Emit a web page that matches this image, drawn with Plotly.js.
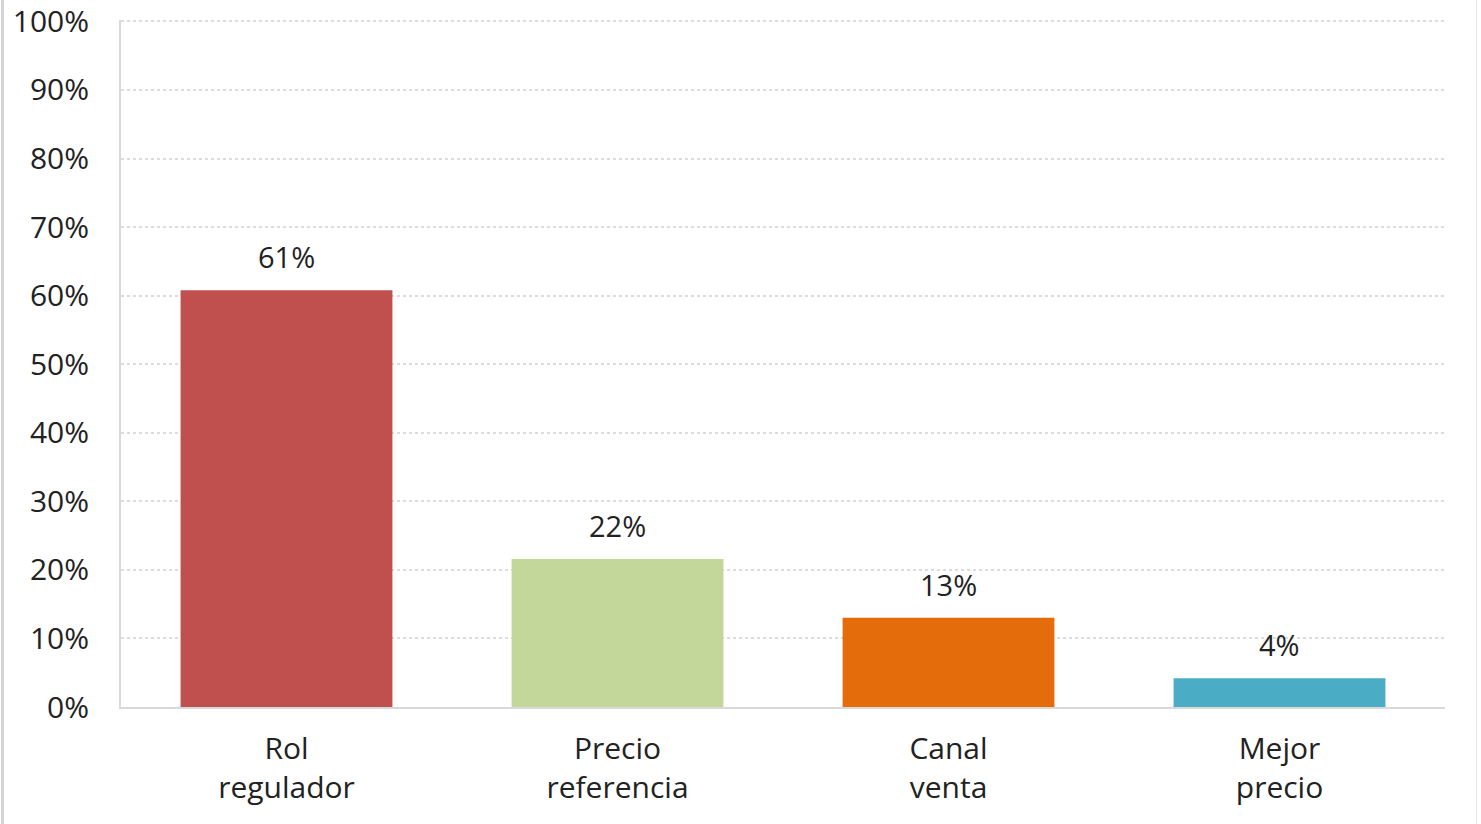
<!DOCTYPE html>
<html>
<head>
<meta charset="utf-8">
<script src="https://cdn.plot.ly/plotly-3.0.1.min.js"></script>
<style>
html,body{margin:0;padding:0;background:#fff;}
#chart{width:1481px;height:824px;position:absolute;left:0;top:0;}
#lb{position:absolute;left:1px;top:0;width:3px;height:824px;background:#d4d4d4;pointer-events:none;}
#rb{position:absolute;left:1476px;top:0;width:1px;height:824px;background:#e6e6e6;pointer-events:none;}
</style>
</head>
<body>
<div id="chart"></div>
<div id="lb"></div>
<div id="rb"></div>
<script>
const categories = ["Rol<br>regulador", "Precio<br>referencia", "Canal<br>venta", "Mejor<br>precio"];
const values = [0.608, 0.216, 0.13, 0.042];
const labels = ["61%", "22%", "13%", "4%"];
const colors = ["#C0504D", "#C4D79B", "#E46C0A", "#4BACC6"];
const yTickVals = [0, 0.1, 0.2, 0.3, 0.4, 0.5, 0.6, 0.7, 0.8, 0.9, 1.0];
const yTickText = ["0%", "10%", "20%", "30%", "40%", "50%", "60%", "70%", "80%", "90%", "100%"];

const FONT = "Open Sans, sans-serif";

const trace = {
  type: "bar",
  x: categories,
  y: values,
  marker: {color: colors, line: {width: 0}},
  width: 0.64,
  hoverinfo: "none"
};

const annotations = categories.map((c, i) => ({
  x: c, y: values[i], xref: "x", yref: "y",
  text: labels[i], showarrow: false,
  yanchor: "bottom", yshift: 12,
  font: {family: FONT, size: 29, color: "#222"}
}));

const layout = {
  width: 1481, height: 824,
  margin: {l: 121, r: 36, t: 20, b: 117},
  paper_bgcolor: "#fff", plot_bgcolor: "#fff",
  showlegend: false,
  bargap: 0.36,
  xaxis: {
    showline: true, linecolor: "#d9d9d9", linewidth: 2,
    showgrid: false, zeroline: false,
    ticks: "outside", ticklen: 14, tickcolor: "rgba(0,0,0,0)",
    tickfont: {family: FONT, size: 30, color: "#222"},
    fixedrange: true
  },
  yaxis: {
    range: [0, 1.002],
    tickvals: yTickVals, ticktext: yTickText,
    showline: true, linecolor: "#d9d9d9", linewidth: 2,
    showgrid: true, gridcolor: "#dcdcdc", gridwidth: 2, griddash: "dot",
    zeroline: false,
    ticks: "outside", ticklen: 24, tickcolor: "rgba(0,0,0,0)",
    ticklabeloverflow: "allow",
    tickfont: {family: FONT, size: 30, color: "#222"},
    fixedrange: true
  },
  annotations: annotations
};

Plotly.newPlot("chart", [trace], layout, {displayModeBar: false, staticPlot: true});
</script>
</body>
</html>
